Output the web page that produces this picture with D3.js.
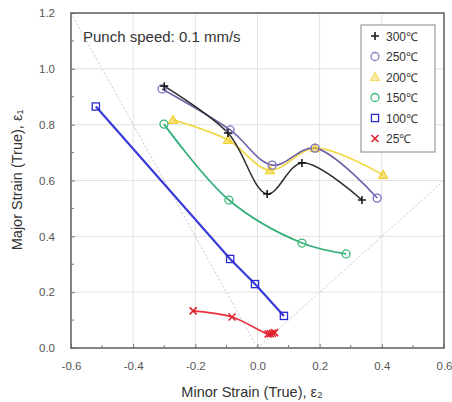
<!DOCTYPE html>
<html>
<head>
<meta charset="utf-8">
<script src="https://cdn.jsdelivr.net/npm/d3@7"></script>
<style>
  html, body { margin: 0; padding: 0; background: #fff; }
  svg { display: block; font-family: "Liberation Sans", Arial, sans-serif; }
</style>
</head>
<body>
<svg id="chart" width="452" height="402"></svg>
<script>
// Forming limit data: minor / major true strain per punch temperature
const series300 = [[-0.30, 0.938], [-0.095, 0.770], [0.031, 0.552], [0.143, 0.663], [0.336, 0.530]];
const series250 = [[-0.307, 0.928], [-0.088, 0.781], [0.047, 0.655], [0.185, 0.716], [0.385, 0.537]];
const series200 = [[-0.272, 0.817], [-0.095, 0.745], [0.040, 0.637], [0.185, 0.716], [0.404, 0.620]];
const series150 = [[-0.301, 0.802], [-0.092, 0.530], [0.143, 0.376], [0.285, 0.337]];
const series100 = [[-0.52, 0.865], [-0.088, 0.319], [-0.008, 0.229], [0.085, 0.115]];
const series25  = [[-0.207, 0.133], [-0.082, 0.111], [0.034, 0.050], [0.041, 0.051], [0.048, 0.053], [0.055, 0.055]];

const legendLabels = ["300℃", "250℃", "200℃", "150℃", "100℃", "25℃"];
const xTicks = [-0.6, -0.4, -0.2, 0.0, 0.2, 0.4, 0.6];
const yTicks = [0.0, 0.2, 0.4, 0.6, 0.8, 1.0, 1.2];
const xMinor = [-0.5, -0.3, -0.1, 0.1, 0.3, 0.5];
const yMinor = [0.1, 0.3, 0.5, 0.7, 0.9, 1.1];
// Reference strain paths: uniaxial (ε1 = -2ε2) and equi-biaxial (ε1 = ε2)
const pathUniaxial = [[-0.6, 1.2], [0, 0]];
const pathBiaxial = [[0, 0], [0.6, 0.6]];

const svg = d3.select("#chart");
const m = { left: 71, right: 8, top: 13, bottom: 54 };
const W = 452, H = 402;
const x = d3.scaleLinear().domain([-0.6, 0.6]).range([m.left, W - m.right]);
const y = d3.scaleLinear().domain([0, 1.2]).range([H - m.bottom, m.top]);

// grid
const g = svg.append("g");
g.selectAll(".gx").data(xTicks.slice(1, -1)).join("line")
  .attr("x1", d => x(d)).attr("x2", d => x(d))
  .attr("y1", y(0)).attr("y2", y(1.2))
  .attr("stroke", "#e2e2e2").attr("stroke-width", 1);
g.selectAll(".gy").data(yTicks.slice(1, -1)).join("line")
  .attr("x1", x(-0.6)).attr("x2", x(0.6))
  .attr("y1", d => y(d)).attr("y2", d => y(d))
  .attr("stroke", "#e2e2e2").attr("stroke-width", 1);

// reference strain paths
const lin = d3.line().x(d => x(d[0])).y(d => y(d[1]));
[pathUniaxial, pathBiaxial].forEach(p => {
  g.append("path").attr("d", lin(p)).attr("fill", "none")
    .attr("stroke", "#c9c6d6").attr("stroke-width", 1).attr("stroke-dasharray", "2,2");
});

// axes with inward ticks
const xAxis = svg.append("g").attr("transform", `translate(0,${y(0)})`)
  .call(d3.axisBottom(x).tickValues(xTicks).tickFormat(d3.format(".1f")).tickSize(-4).tickPadding(14));
const yAxis = svg.append("g").attr("transform", `translate(${x(-0.6)},0)`)
  .call(d3.axisLeft(y).tickValues(yTicks).tickFormat(d3.format(".1f")).tickSize(-4).tickPadding(16));
[xAxis, yAxis].forEach(a => {
  a.select(".domain").remove();
  a.selectAll(".tick line").attr("stroke", "#777");
  a.selectAll(".tick text").attr("fill", "#555").style("font-size", "11.5px");
});
xAxis.selectAll(".tick text").text(d => d < 0 ? "-" + Math.abs(d).toFixed(1) : d.toFixed(1));
svg.append("g").selectAll("line").data(xMinor).join("line")
  .attr("x1", d => x(d)).attr("x2", d => x(d)).attr("y1", y(0)).attr("y2", y(0) - 3)
  .attr("stroke", "#777");
svg.append("g").selectAll("line").data(yMinor).join("line")
  .attr("y1", d => y(d)).attr("y2", d => y(d)).attr("x1", x(-0.6)).attr("x2", x(-0.6) + 3)
  .attr("stroke", "#777");

// frame
svg.append("rect").attr("x", x(-0.6)).attr("y", y(1.2))
  .attr("width", x(0.6) - x(-0.6)).attr("height", y(0) - y(1.2))
  .attr("fill", "none").attr("stroke", "#666").attr("stroke-width", 1.6);

// series
const smooth = d3.line().x(d => x(d[0])).y(d => y(d[1])).curve(d3.curveCatmullRom.alpha(0.5));
const straight = d3.line().x(d => x(d[0])).y(d => y(d[1]));

function drawMarker(sel, type, color, px, py) {
  const s = 4;
  if (type === "plus") {
    sel.append("path").attr("d", `M${px - s},${py}H${px + s}M${px},${py - s}V${py + s}`)
      .attr("stroke", color).attr("stroke-width", 1.6).attr("fill", "none");
  } else if (type === "circle") {
    sel.append("circle").attr("cx", px).attr("cy", py).attr("r", 4)
      .attr("fill", "none").attr("stroke", color).attr("stroke-width", 1.3);
  } else if (type === "triangle") {
    sel.append("path").attr("d", `M${px},${py - 4.5}L${px + 4.5},${py + 3.5}L${px - 4.5},${py + 3.5}Z`)
      .attr("fill", color).attr("fill-opacity", 0.55).attr("stroke", color).attr("stroke-width", 1.2);
  } else if (type === "square") {
    sel.append("rect").attr("x", px - 3.6).attr("y", py - 3.6).attr("width", 7.2).attr("height", 7.2)
      .attr("fill", "none").attr("stroke", color).attr("stroke-width", 1.3);
  } else if (type === "x") {
    sel.append("path").attr("d", `M${px - 3.5},${py - 3.5}L${px + 3.5},${py + 3.5}M${px - 3.5},${py + 3.5}L${px + 3.5},${py - 3.5}`)
      .attr("stroke", color).attr("stroke-width", 1.6).attr("fill", "none");
  }
}

const seriesList = [
  { data: series200, line: "#f2d84a", marker: "#f0d030", type: "triangle", curve: smooth, w: 1.8 },
  { data: series250, line: "#6f5fa6", marker: "#7b6fc0", type: "circle", curve: smooth, w: 1.6 },
  { data: series300, line: "#2a2a2a", marker: "#1a1a1a", type: "plus", curve: smooth, w: 1.5 },
  { data: series150, line: "#36b07a", marker: "#3cb878", type: "circle", curve: smooth, w: 1.8 },
  { data: series100, line: "#3a3ad8", marker: "#2a2ad0", type: "square", curve: straight, w: 2.2 },
  { data: series25,  line: "#e8323c", marker: "#e0202c", type: "x", curve: smooth, w: 1.6 },
];
const plot = svg.append("g");
seriesList.forEach(s => {
  plot.append("path").attr("d", s.curve(s.data)).attr("fill", "none")
    .attr("stroke", s.line).attr("stroke-width", s.w);
});
seriesList.forEach(s => {
  const mg = plot.append("g");
  s.data.forEach(d => drawMarker(mg, s.type, s.marker, x(d[0]), y(d[1])));
});

// legend
const legendTypes = [
  ["plus", "#1a1a1a"], ["circle", "#8a80c0"], ["triangle", "#f5dc60"],
  ["circle", "#3cb878"], ["square", "#2a2ad0"], ["x", "#e0202c"]
];
const lg = svg.append("g");
lg.append("rect").attr("x", 361).attr("y", 25).attr("width", 74).attr("height", 127)
  .attr("fill", "#fff").attr("stroke", "#888").attr("stroke-width", 1);
legendLabels.forEach((lab, i) => {
  const cy = 36 + i * 20.5;
  drawMarker(lg, legendTypes[i][0], legendTypes[i][1], 375, cy);
  lg.append("text").attr("x", 386).attr("y", cy + 4.5).text(lab)
    .attr("fill", "#333").style("font-size", "12px");
});

// annotation
svg.append("text").attr("x", 83).attr("y", 42).text("Punch speed: 0.1 mm/s")
  .attr("fill", "#333").style("font-size", "15px");

// axis titles
svg.append("text").attr("x", 252).attr("y", 397).attr("text-anchor", "middle")
  .text("Minor Strain (True), ε₂").attr("fill", "#333").style("font-size", "14.5px");
svg.append("text").attr("transform", "translate(22,180) rotate(-90)").attr("text-anchor", "middle")
  .text("Major Strain (True), ε₁").attr("fill", "#333").style("font-size", "14.5px");
</script>
</body>
</html>
